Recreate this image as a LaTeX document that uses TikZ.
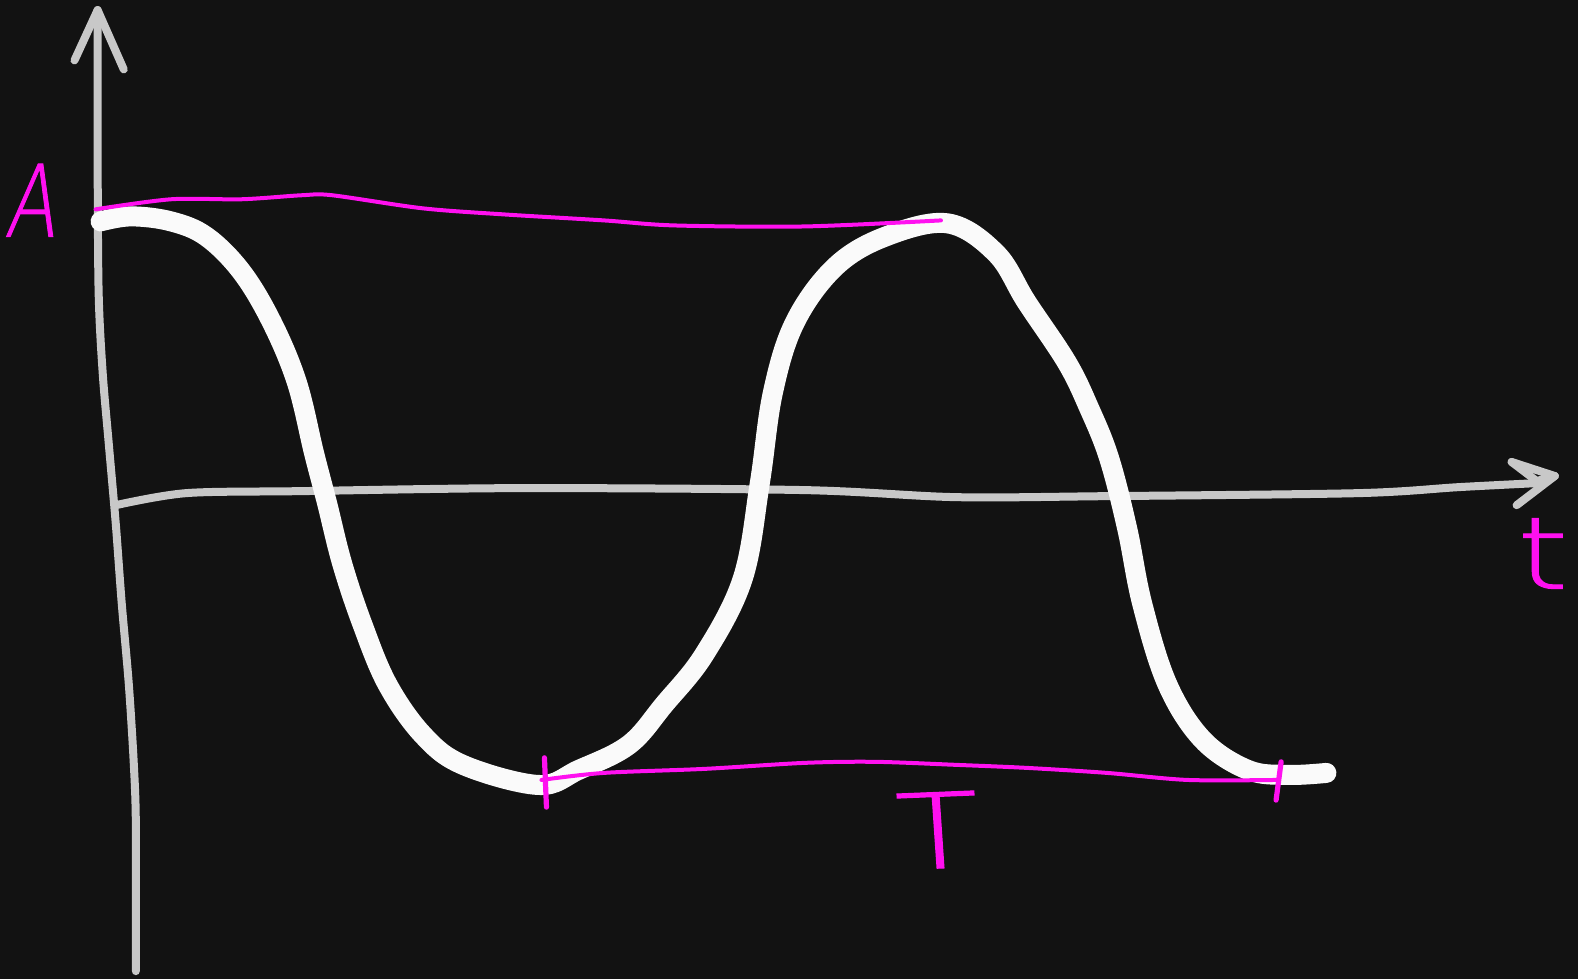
\documentclass[tikz,border=0pt]{standalone}
\usepackage{fontspec}
\setmainfont{Liberation Sans}
\newfontfamily\handfont{DejaVu Sans ExtraLight}[FakeBold=1]
\definecolor{bg}{HTML}{121212}
\definecolor{axisgray}{HTML}{C8C8C8}
\definecolor{curvewhite}{HTML}{FAFAFA}
\definecolor{mag}{HTML}{FF10F0}
\tikzset{
  axisline/.style={draw=axisgray, line width=4pt, line cap=round, line join=round},
  wave/.style={draw=curvewhite, line width=10pt, line cap=round, line join=round},
  magline/.style={draw=mag, line width=2pt, line cap=round, line join=round},
  magtick/.style={draw=mag, line width=2.6pt, line cap=round},
  handlabel/.style={text=mag, inner sep=0pt}
}
\begin{document}
\begin{tikzpicture}[x=0.5032pt, y=-0.5032pt]
\fill[bg] (0,0) rectangle (1568,973);
\useasboundingbox (0,0) rectangle (1568,973);
% vertical axis
\coordinate (ytop) at (97,10);
\coordinate (ybot) at (135,965);
\draw[axisline] plot[smooth, tension=0.5] coordinates {(135,965) (135,820) (133,760) (128,680) (121,600) (115,520) (108,440) (102,370) (98,290) (97,150) (97,10)};
\draw[axisline] (74,60) -- (ytop) -- (123,69);
% horizontal axis
\coordinate (xtip) at (1545,473);
\draw[axisline] plot[smooth, tension=0.5] coordinates {(115,502) (185,490) (300,488) (520,485) (800,487) (950,494) (1100,493) (1350,490) (1450,484) (1528,480)};
\draw[axisline] (1502,459) -- (xtip) -- (1507,502);
\draw[axisline] (1502,459) -- (1527,478) -- (xtip);
% wave
\draw[wave] plot[smooth, tension=0.6] coordinates {(100,220) (130,215) (170,220) (205,235) (240,270) (270,320) (295,380) (312,450) (325,500) (340,560) (360,620) (385,680) (420,730) (460,760) (535,780) (575,765) (625,740) (660,700) (700,650) (738,575) (755,480) (768,390) (790,320) (830,265) (880,235) (942,222) (990,252) (1020,300) (1060,360) (1082,405) (1102,455) (1120,525) (1135,600) (1160,680) (1195,735) (1240,765) (1280,770) (1318,768)};
% magenta amplitude line
\draw[magline] plot[smooth, tension=0.5] coordinates {(95,208) (170,198) (240,198) (300,194) (330,194) (420,207) (500,213) (600,219) (670,224) (800,225) (935,219)};
% magenta period line
\draw[magline] plot[smooth, tension=0.5] coordinates {(538,775) (600,768) (700,764) (800,758) (870,757) (950,760) (1020,763) (1100,768) (1180,775) (1268,775)};
\coordinate (t1a) at (541,753); \coordinate (t1b) at (543,802);
\coordinate (t2a) at (1273,757); \coordinate (t2b) at (1268,795);
\draw[magtick] (t1a) -- (t1b);
\draw[magtick] (t2a) -- (t2b);
% labels
\node[handlabel, font=\handfont\fontsize{50}{50}\selectfont, xscale=0.75, xslant=0.2] (lblA) at (35,199) {A};
\node[handlabel, font=\handfont\fontsize{50}{50}\selectfont, xscale=1.3] (lblt) at (1533,550) {t};
\node[handlabel, font=\handfont\fontsize{52}{52}\selectfont, xscale=1.3, rotate=3] (lblT) at (932,825) {T};
\end{tikzpicture}
\end{document}
